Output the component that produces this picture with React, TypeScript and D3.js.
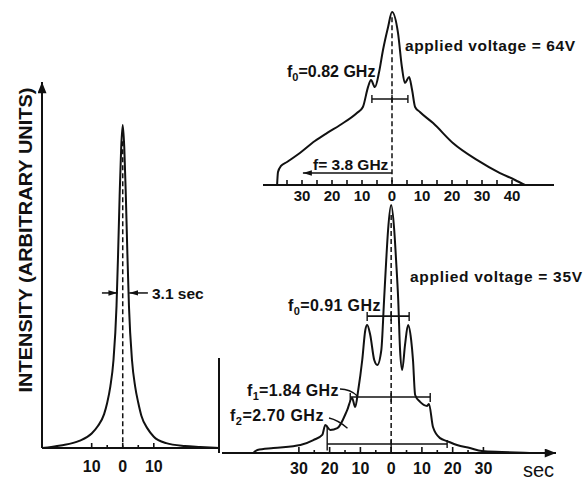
import React from 'react';
import * as d3 from 'd3';

// left panel: single narrow peak (sec, relative intensity)
const leftTime = [-26, -20, -14, -10, -8, -6, -5, -4, -3, -2, -1.5, -1, -0.5, 0, 0.5, 1, 1.5, 2, 3, 4, 5, 6, 8, 10, 14, 20, 25, 31];
const leftInt = [0, 0.008, 0.022, 0.045, 0.068, 0.105, 0.14, 0.19, 0.27, 0.44, 0.6, 0.78, 0.93, 1, 0.93, 0.78, 0.6, 0.44, 0.27, 0.19, 0.14, 0.1, 0.06, 0.035, 0.015, 0.006, 0.003, 0];
const leftTicks = [-10, -5, 0, 5, 10];
const leftTickLabels = [-10, 0, 10];

// top right panel: applied voltage = 64V
const topTime = [-38.3, -38, -37, -35, -30.7, -25.7, -21.7, -17.3, -11.7, -9.7, -8, -7, -5.7, -4.3, -3, -1.3, 0, 2, 3.3, 4.3, 5.7, 6.7, 7.7, 9.3, 13.7, 20.3, 28.3, 36, 41, 44.3];
const topInt = [0, 0.075, 0.11, 0.133, 0.185, 0.254, 0.3, 0.347, 0.416, 0.451, 0.566, 0.607, 0.566, 0.653, 0.78, 0.913, 1, 0.879, 0.682, 0.59, 0.624, 0.549, 0.451, 0.422, 0.358, 0.243, 0.145, 0.069, 0.029, 0];
const topTicks = [-35, -30, -25, -20, -15, -10, -5, 0, 5, 10, 15, 20, 25, 30, 35, 40];
const topTickLabels = [-30, -20, -10, 0, 10, 20, 30, 40];

// bottom right panel: applied voltage = 35V
const botTime = [-44.8, -43.5, -38.3, -29.5, -25.3, -22.4, -21.4, -19.8, -17.5, -14.3, -12.7, -11.7, -10.7, -9.4, -8.4, -7.8, -6.8, -5.5, -4.5, -3.2, -2.3, -1.6, -1.0, 0, 1.0, 1.6, 2.3, 2.9, 3.6, 4.5, 5.5, 6.5, 7.1, 7.8, 9.4, 11.7, 12.3, 13.6, 15.9, 18.2, 21.4, 25.6, 29.5, 36, 45];
const botInt = [0, 0.012, 0.02, 0.032, 0.052, 0.073, 0.113, 0.093, 0.1, 0.173, 0.222, 0.185, 0.254, 0.375, 0.496, 0.516, 0.476, 0.375, 0.355, 0.415, 0.617, 0.778, 0.899, 1, 0.899, 0.778, 0.617, 0.415, 0.335, 0.435, 0.516, 0.456, 0.375, 0.234, 0.206, 0.19, 0.198, 0.105, 0.06, 0.048, 0.032, 0.02, 0.008, 0.004, 0];
const botTicks = [-30, -25, -20, -15, -10, -5, 0, 5, 10, 15, 20, 25, 30];
const botTickLabels = [-30, -20, -10, 0, 10, 20, 30];

const FONT = '"Liberation Sans", Arial, sans-serif';

const zip = (t: number[], v: number[]) => t.map((x, i) => [x, v[i]] as [number, number]);

const Sub = ({ main, sub, rest }: { main: string; sub: string; rest: string }) => (
  <>
    <tspan>{main}</tspan>
    <tspan dy={4} fontSize={11}>{sub}</tspan>
    <tspan dy={-4}>{rest}</tspan>
  </>
);

const App = () => {
  const xL = d3.scaleLinear().domain([-26, 31]).range([42, 219]);
  const yL = d3.scaleLinear().domain([0, 1]).range([448, 125]);
  const xT = d3.scaleLinear().domain([-43, 54]).range([263, 554]);
  const yT = d3.scaleLinear().domain([0, 1]).range([185, 12]);
  const xB = d3.scaleLinear().domain([-55, 53.6]).range([222, 556]);
  const yB = d3.scaleLinear().domain([0, 1]).range([453, 205]);

  const lineL = d3.line<[number, number]>().x(d => xL(d[0])).y(d => yL(d[1])).curve(d3.curveMonotoneX);
  const lineT = d3.line<[number, number]>().x(d => xT(d[0])).y(d => yT(d[1])).curve(d3.curveMonotoneX);
  const lineB = d3.line<[number, number]>().x(d => xB(d[0])).y(d => yB(d[1])).curve(d3.curveMonotoneX);

  const sw = 2;
  const txt = { fontFamily: FONT, fontWeight: 700, fill: '#111' } as const;

  return (
    <svg width={584} height={482} style={{ position: 'absolute', left: 0, top: 0, background: '#fff' }}>
      <defs>
        <marker id="ah" viewBox="0 0 10 6" refX={10} refY={3} markerWidth={9} markerHeight={6} markerUnits="userSpaceOnUse" orient="auto">
          <path d="M0,0 L10,3 L0,6 z" fill="#111" />
        </marker>
        <marker id="ahBig" viewBox="0 0 10 8" refX={10} refY={4} markerWidth={12} markerHeight={9} markerUnits="userSpaceOnUse" orient="auto">
          <path d="M0,0 L10,4 L0,8 z" fill="#111" />
        </marker>
      </defs>

      {/* ---- left panel ---- */}
      <text
        transform="translate(32,240) rotate(-90)"
        textAnchor="middle"
        fontSize={19}
        textLength={305}
        lengthAdjust="spacingAndGlyphs"
        {...txt}
      >
        INTENSITY (ARBITRARY UNITS)
      </text>
      <line x1={xL(-26)} x2={xL(-26)} y1={yL(0)} y2={82} stroke="#111" strokeWidth={sw} markerEnd="url(#ahBig)" />
      <line x1={xL(-26)} x2={xL(31)} y1={yL(0)} y2={yL(0)} stroke="#111" strokeWidth={sw} />
      {leftTicks.map(t => (
        <line key={t} x1={xL(t)} x2={xL(t)} y1={yL(0)} y2={yL(0) - (t % 10 === 0 ? 5 : 3)} stroke="#111" strokeWidth={1.6} />
      ))}
      {leftTickLabels.map(t => (
        <text key={t} x={xL(t)} y={472} textAnchor="middle" fontSize={16} {...txt}>{Math.abs(t)}</text>
      ))}
      <path d={lineL(zip(leftTime, leftInt)) || ''} fill="none" stroke="#111" strokeWidth={sw} />
      <line x1={xL(0)} x2={xL(0)} y1={yL(0.95)} y2={yL(0)} stroke="#111" strokeWidth={1.5} strokeDasharray="5,3" />
      <line x1={xL(-6.7)} x2={xL(-1.7)} y1={yL(0.48)} y2={yL(0.48)} stroke="#111" strokeWidth={1.5} markerEnd="url(#ah)" />
      <line x1={xL(8.1)} x2={xL(2.1)} y1={yL(0.48)} y2={yL(0.48)} stroke="#111" strokeWidth={1.5} markerEnd="url(#ah)" />
      <text x={152} y={yL(0.48) + 6} fontSize={15.5} {...txt}>3.1 sec</text>

      {/* ---- top right panel ---- */}
      <line x1={xT(-43)} x2={xT(54)} y1={yT(0)} y2={yT(0)} stroke="#111" strokeWidth={sw} />
      {topTicks.map(t => (
        <line key={t} x1={xT(t)} x2={xT(t)} y1={yT(0)} y2={yT(0) - 5} stroke="#111" strokeWidth={1.6} />
      ))}
      {topTickLabels.map(t => (
        <text key={t} x={xT(t)} y={201} textAnchor="middle" fontSize={15} {...txt}>{Math.abs(t)}</text>
      ))}
      <path d={lineT(zip(topTime, topInt)) || ''} fill="none" stroke="#111" strokeWidth={sw} />
      <line x1={xT(0)} x2={xT(0)} y1={yT(0.97)} y2={yT(0)} stroke="#111" strokeWidth={1.5} strokeDasharray="5,3" />
      {/* f0 bracket */}
      <line x1={xT(-6.7)} x2={xT(5.3)} y1={yT(0.497)} y2={yT(0.497)} stroke="#111" strokeWidth={1.6} />
      {[-6.7, 0, 5.3].map(t => (
        <line key={t} x1={xT(t)} x2={xT(t)} y1={yT(0.497) - 4} y2={yT(0.497) + 4} stroke="#111" strokeWidth={1.4} />
      ))}
      <text x={287} y={77} fontSize={16} {...txt}><Sub main="f" sub="0" rest="=0.82 GHz" /></text>
      {/* f = 3.8 GHz arrow */}
      <line x1={xT(0)} x2={xT(-29.7)} y1={yT(0.069)} y2={yT(0.069)} stroke="#111" strokeWidth={1.5} markerEnd="url(#ah)" />
      <text x={313} y={170} fontSize={15.5} {...txt}>f= 3.8 GHz</text>
      <text x={405} y={51} fontSize={15.5} letterSpacing={0.6} {...txt}>applied  voltage = 64V</text>

      {/* ---- bottom right panel ---- */}
      <line x1={219} x2={219} y1={358} y2={yB(0)} stroke="#111" strokeWidth={sw} />
      <line x1={xB(-55)} x2={xB(53.6)} y1={yB(0)} y2={yB(0)} stroke="#111" strokeWidth={sw} markerEnd="url(#ahBig)" />
      {botTicks.map(t => (
        <line key={t} x1={xB(t)} x2={xB(t)} y1={yB(0)} y2={yB(0) - (t % 10 === 0 ? 6 : 3)} stroke="#111" strokeWidth={1.6} />
      ))}
      {botTickLabels.map(t => (
        <text key={t} x={xB(t)} y={474} textAnchor="middle" fontSize={16} {...txt}>{Math.abs(t)}</text>
      ))}
      <text x={523} y={477} fontSize={20} fontFamily={FONT} fontWeight={400} fill="#111">sec</text>
      <path d={lineB(zip(botTime, botInt)) || ''} fill="none" stroke="#111" strokeWidth={sw} />
      <line x1={xB(0)} x2={xB(0)} y1={yB(0.96)} y2={yB(0)} stroke="#111" strokeWidth={1.5} strokeDasharray="5,3" />
      {/* f0 bracket */}
      <line x1={xB(-7.8)} x2={xB(5.85)} y1={yB(0.552)} y2={yB(0.552)} stroke="#111" strokeWidth={1.6} />
      {[-7.8, 0, 5.85].map(t => (
        <line key={t} x1={xB(t)} x2={xB(t)} y1={yB(0.552) - 4} y2={yB(0.552) + 5} stroke="#111" strokeWidth={1.4} />
      ))}
      {/* f1 bracket */}
      <line x1={xB(-13.3)} x2={xB(12.7)} y1={yB(0.226)} y2={yB(0.226)} stroke="#111" strokeWidth={1.6} />
      {[-13.3, 0, 12.7].map(t => (
        <line key={t} x1={xB(t)} x2={xB(t)} y1={yB(0.226) - 4} y2={yB(0.226) + 5} stroke="#111" strokeWidth={1.4} />
      ))}
      {/* f2 bracket */}
      <line x1={xB(-20.8)} x2={xB(18.2)} y1={yB(0.036)} y2={yB(0.036)} stroke="#111" strokeWidth={1.6} />
      <line x1={xB(-20.8)} x2={xB(-20.8)} y1={yB(0.11)} y2={yB(0.01)} stroke="#111" strokeWidth={1.4} />
      {[0, 18.2].map(t => (
        <line key={t} x1={xB(t)} x2={xB(t)} y1={yB(0.036) - 4} y2={yB(0.036) + 4} stroke="#111" strokeWidth={1.4} />
      ))}
      <text x={410} y={282} fontSize={15.5} letterSpacing={0.7} {...txt}>applied  voltage = 35V</text>
      <text x={288} y={311} fontSize={16} letterSpacing={0.4} {...txt}><Sub main="f" sub="0" rest="=0.91 GHz" /></text>
      <text x={247} y={396} fontSize={16} letterSpacing={0.3} {...txt}><Sub main="f" sub="1" rest="=1.84 GHz" /></text>
      <text x={230} y={421} fontSize={16} letterSpacing={0.5} {...txt}><Sub main="f" sub="2" rest="=2.70 GHz" /></text>
      {/* leader lines */}
      <path d={`M340,389 Q350,389 ${xB(-11)},${yB(0.23)}`} fill="none" stroke="#111" strokeWidth={1.4} />
      <path d={`M329,418 Q338,420 ${xB(-14.2)},${yB(0.1)}`} fill="none" stroke="#111" strokeWidth={1.4} />
    </svg>
  );
};

export default App;
